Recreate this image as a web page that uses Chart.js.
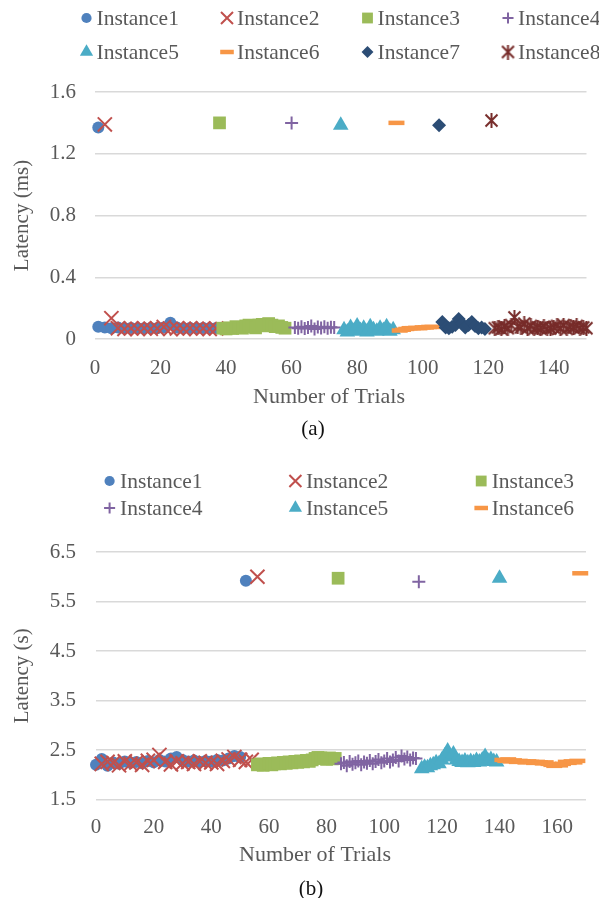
<!DOCTYPE html>
<html>
<head>
<meta charset="utf-8">
<script src="https://cdn.jsdelivr.net/npm/chart.js@4.4.1/dist/chart.umd.min.js"></script>
<style>
  html, body { margin: 0; padding: 0; background: #fff; overflow: hidden; }
  body { width: 599px; height: 898px; position: relative; font-family: 'Liberation Serif', serif; }
  canvas { position: absolute; left: 0; }
  #chartA { top: 0; }
  #chartB { top: 440px; }
  .cap { position: absolute; width: 100px; text-align: center; font-size: 21px; line-height: 24px; color: #111; }
</style>
</head>
<body>
<canvas id="chartA" width="599" height="440"></canvas>
<canvas id="chartB" width="599" height="458"></canvas>
<div class="cap" style="left:263px; top:416px">(a)</div>
<div class="cap" style="left:261px; top:876px">(b)</div>
<script>
// ---------- (a) latency in ms ----------
const instancesA = ['Instance1', 'Instance2', 'Instance3', 'Instance4', 'Instance5', 'Instance6', 'Instance7', 'Instance8'];
const xTicksA = [0, 20, 40, 60, 80, 100, 120, 140];
const yTicksA = [0, 0.4, 0.8, 1.2, 1.6];
// first (cold) trial of every instance
const coldTrialA = [1, 3, 38, 60, 75, 92, 105, 121];
const coldLatA = [1.37, 1.39, 1.40, 1.40, 1.385, 1.40, 1.385, 1.415];
// warm trials: first trial number and spacing
const warmStartA = [1, 5, 39, 61, 76, 93, 106, 122];
const warmStepA = [2, 2, 1, 1, 1, 1, 1, 1];
const warmA1 = [0.08, 0.075, 0.07, 0.075, 0.07, 0.072, 0.07, 0.07, 0.072, 0.07, 0.075, 0.105, 0.075, 0.07, 0.072, 0.07, 0.072, 0.07, 0.072];
const warmA2 = [0.135, 0.07, 0.065, 0.068, 0.065, 0.07, 0.066, 0.068, 0.078, 0.065, 0.068, 0.065, 0.07, 0.066, 0.068, 0.065, 0.068];
const warmA3 = [0.07, 0.065, 0.072, 0.068, 0.08, 0.075, 0.07, 0.085, 0.09, 0.08, 0.072, 0.09, 0.095, 0.085, 0.1, 0.09, 0.08, 0.085, 0.075, 0.07];
const warmA4 = [0.075, 0.07, 0.08, 0.068, 0.075, 0.085, 0.065, 0.078, 0.072, 0.08, 0.07, 0.076, 0.074];
const warmA5 = [0.06, 0.045, 0.075, 0.05, 0.085, 0.055, 0.07, 0.045, 0.08, 0.06, 0.05, 0.07, 0.055, 0.08, 0.05, 0.06];
const warmA6 = [0.055, 0.06, 0.065, 0.07, 0.07, 0.072, 0.07, 0.075, 0.075, 0.078, 0.078];
const warmA7 = [0.11, 0.075, 0.07, 0.08, 0.09, 0.13, 0.1, 0.075, 0.09, 0.11, 0.085, 0.07, 0.075, 0.065];
const warmA8 = [0.07, 0.075, 0.065, 0.08, 0.07, 0.09, 0.14, 0.08, 0.075, 0.1, 0.07, 0.085, 0.065, 0.075, 0.07, 0.08, 0.065, 0.07, 0.075, 0.085, 0.07, 0.09, 0.065, 0.08, 0.075, 0.085, 0.07, 0.075, 0.07];

// ---------- (b) latency in s ----------
const instancesB = ['Instance1', 'Instance2', 'Instance3', 'Instance4', 'Instance5', 'Instance6'];
const xTicksB = [0, 20, 40, 60, 80, 100, 120, 140, 160];
const yTicksB = [1.5, 2.5, 3.5, 4.5, 5.5, 6.5];
// last (slow) trial of every instance
const coldTrialB = [52, 56, 84, 112, 140, 168];
const coldLatB = [5.92, 6.0, 5.97, 5.9, 5.97, 6.07];
const warmStartB = [0, 2, 56, 85, 113, 141];
const warmStepB = [2, 2, 1, 1, 1, 1];
const warmB1 = [2.20, 2.32, 2.18, 2.25, 2.22, 2.27, 2.24, 2.26, 2.23, 2.28, 2.25, 2.30, 2.27, 2.33, 2.36, 2.30, 2.27, 2.29, 2.26, 2.28, 2.27, 2.30, 2.29, 2.33, 2.38, 2.36];
const warmB2 = [2.22, 2.26, 2.24, 2.19, 2.27, 2.22, 2.25, 2.20, 2.28, 2.30, 2.40, 2.26, 2.21, 2.27, 2.23, 2.26, 2.22, 2.27, 2.24, 2.25, 2.22, 2.28, 2.31, 2.36, 2.30, 2.26, 2.30];
const warmB3 = [2.20, 2.22, 2.19, 2.21, 2.23, 2.20, 2.22, 2.24, 2.22, 2.25, 2.23, 2.26, 2.24, 2.27, 2.25, 2.28, 2.26, 2.29, 2.27, 2.30, 2.33, 2.35, 2.34, 2.33, 2.31, 2.34, 2.32, 2.33];
const warmB4 = [2.22, 2.25, 2.18, 2.27, 2.21, 2.24, 2.28, 2.20, 2.26, 2.23, 2.29, 2.22, 2.27, 2.31, 2.24, 2.28, 2.33, 2.26, 2.30, 2.35, 2.28, 2.38, 2.32, 2.36, 2.30, 2.34, 2.33];
const warmB5 = [2.12, 2.15, 2.14, 2.18, 2.20, 2.24, 2.22, 2.30, 2.38, 2.48, 2.36, 2.42, 2.30, 2.27, 2.25, 2.28, 2.24, 2.27, 2.25, 2.29, 2.26, 2.30, 2.37, 2.28, 2.31, 2.27, 2.26];
const warmB6 = [2.30, 2.28, 2.31, 2.27, 2.29, 2.26, 2.28, 2.27, 2.25, 2.27, 2.26, 2.24, 2.26, 2.25, 2.23, 2.25, 2.22, 2.20, 2.18, 2.21, 2.19, 2.22, 2.26, 2.24, 2.27, 2.25, 2.28];

const colors = ['#4F81BD', '#C0504D', '#9BBB59', '#8064A2', '#4BACC6', '#F79646', '#2C4D75', '#772C2A'];
const serif = "'Liberation Serif', 'Times New Roman', serif";
const txt = '#595959';

// excel-like asterisk: an X with a vertical bar
function starMarker(color, size) {
  const c = document.createElement('canvas');
  c.width = size; c.height = size;
  const g = c.getContext('2d');
  g.strokeStyle = color;
  g.lineWidth = 2;
  const m = 1.5, h = size / 2;
  g.beginPath();
  g.moveTo(m, m); g.lineTo(size - m, size - m);
  g.moveTo(size - m, m); g.lineTo(m, size - m);
  g.moveTo(h, 0); g.lineTo(h, size);
  g.stroke();
  return c;
}

const markers = [
  { style: 'circle', r: 6, bw: 0 },
  { style: 'crossRot', r: 10, bw: 2 },
  { style: 'rect', r: 9, bw: 0 },
  { style: 'cross', r: 6.5, bw: 2 },
  { style: 'triangle', r: 9, bw: 0 },
  { style: 'line', r: 8, bw: 4.5 },
  { style: 'rectRot', r: 7, bw: 0 },
  { style: starMarker('#772C2A', 15), r: 7.5, bw: 0 }
];

function buildSets(names, coldX, coldY, starts, steps, runs) {
  return names.map((name, i) => {
    const pts = [{ x: coldX[i], y: coldY[i] }];
    runs[i].forEach((v, k) => pts.push({ x: starts[i] + k * steps[i], y: v }));
    const mk = markers[i];
    return {
      label: name,
      data: pts,
      pointStyle: mk.style,
      pointRadius: mk.r,
      pointHoverRadius: mk.r,
      pointBorderWidth: mk.bw,
      backgroundColor: colors[i],
      borderColor: colors[i],
      order: names.length - i,   // later instances on top, like excel
      clip: false
    };
  });
}

// legend in fixed columns + x axis caption (sits left of the plot centre in the original)
const gridLegend = {
  id: 'gridLegend',
  afterDraw(chart, args, opts) {
    const ctx = chart.ctx;
    ctx.save();
    ctx.font = '21.5px ' + serif;
    ctx.textBaseline = 'middle';
    ctx.textAlign = 'left';
    chart.data.datasets.forEach((ds, i) => {
      const x = opts.x0 + (i % opts.cols) * opts.dx;
      const y = opts.y0 + Math.floor(i / opts.cols) * opts.dy;
      ctx.fillStyle = ds.backgroundColor;
      ctx.strokeStyle = ds.borderColor;
      ctx.lineWidth = ds.pointBorderWidth;
      Chart.helpers.drawPoint(ctx, {
        pointStyle: ds.pointStyle, radius: ds.pointRadius * 0.85, rotation: 0, borderWidth: ds.pointBorderWidth
      }, x, y);
      ctx.fillStyle = txt;
      ctx.fillText(ds.label, x + opts.gap, y + 1);
    });
    ctx.font = '22px ' + serif;
    ctx.textAlign = 'center';
    ctx.fillStyle = txt;
    ctx.fillText(opts.xTitle.text, opts.xTitle.x, opts.xTitle.y);
    ctx.restore();
  }
};

const tickFont = { family: serif, size: 21 };

function makeChart(id, sets, o) {
  return new Chart(document.getElementById(id), {
    type: 'scatter',
    data: { datasets: sets },
    options: {
      responsive: false,
      animation: false,
      layout: { padding: o.pad },
      plugins: { legend: { display: false }, tooltip: { enabled: false }, gridLegend: o.legend },
      scales: {
        x: {
          type: 'linear', min: o.xMin, max: o.xMax,
          afterBuildTicks: s => { s.ticks = o.xTicks.map(v => ({ value: v })); },
          afterFit: s => { s.height = o.xAxisH; },
          grid: { display: false, drawTicks: false },
          border: { display: false },
          ticks: { padding: o.xPad, color: txt, font: tickFont, maxRotation: 0 },
          title: { display: false }
        },
        y: {
          min: o.yMin, max: o.yMax,
          afterBuildTicks: s => { s.ticks = o.yTicks.map(v => ({ value: v })); },
          afterFit: s => { s.width = o.yAxisW; },
          grid: { color: '#d9d9d9', lineWidth: 1.5, drawTicks: false },
          border: { display: false },
          ticks: { padding: o.yPad, color: txt, font: tickFont, callback: v => String(v) },
          title: { display: true, text: o.yTitle, color: txt, font: tickFont, padding: { top: 9.4, bottom: 0 } }
        }
      }
    },
    plugins: [gridLegend]
  });
}

const setsA = buildSets(instancesA, coldTrialA, coldLatA, warmStartA, warmStepA,
  [warmA1, warmA2, warmA3, warmA4, warmA5, warmA6, warmA7, warmA8]);
const setsB = buildSets(instancesB, coldTrialB, coldLatB, warmStartB, warmStepB,
  [warmB1, warmB2, warmB3, warmB4, warmB5, warmB6]);

makeChart('chartA', setsA, {
  pad: { top: 92, left: 0, right: 12, bottom: 30.4 },
  xMin: 0, xMax: 150, xTicks: xTicksA, xAxisH: 70.6, xPad: 17,
  yMin: 0, yMax: 1.6, yTicks: yTicksA, yAxisW: 95, yPad: 19,
  yTitle: 'Latency (ms)',
  legend: { cols: 4, x0: 86.5, dx: 140.5, y0: 18, dy: 34, gap: 10,
            xTitle: { text: 'Number of Trials', x: 329, y: 397 } }
});

makeChart('chartB', setsB, {
  pad: { top: 112, left: 0, right: 13, bottom: 30.5 },
  xMin: 0, xMax: 170, xTicks: xTicksB, xAxisH: 68, xPad: 15.5,
  yMin: 1.5, yMax: 6.5, yTicks: yTicksB, yAxisW: 96, yPad: 20,
  yTitle: 'Latency (s)',
  legend: { cols: 3, x0: 109.6, dx: 185.8, y0: 41, dy: 27, gap: 10.5,
            xTitle: { text: 'Number of Trials', x: 315, y: 415 } }
});
</script>
</body>
</html>
